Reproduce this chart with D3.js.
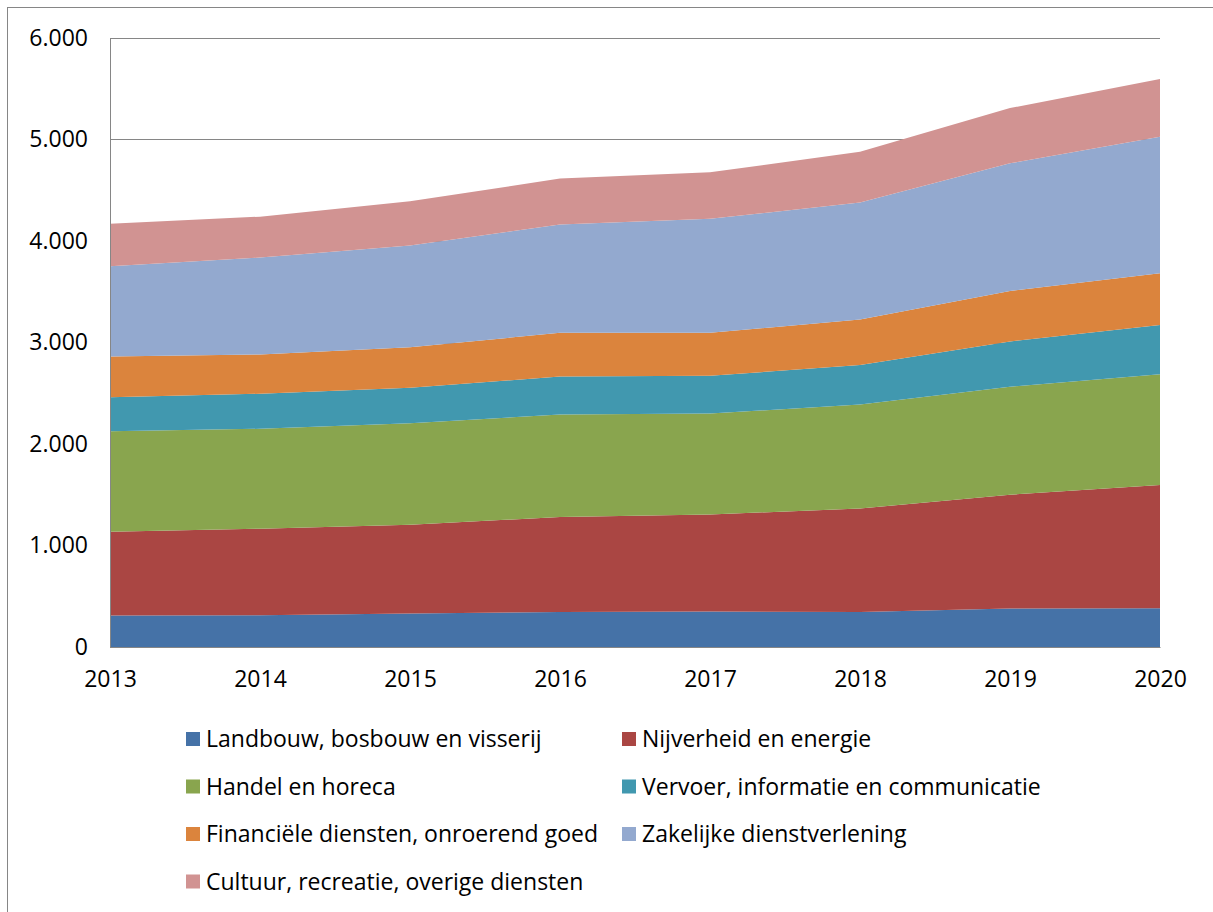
<!DOCTYPE html>
<html>
<head>
<meta charset="utf-8">
<script src="https://cdn.jsdelivr.net/npm/d3@7"></script>
<style>
  body { margin: 0; background: #fff; }
  text { font-family: "Open Sans", "Noto Sans", sans-serif; fill: #000; }
</style>
</head>
<body>
<div id="visualization"></div>
<script>
// Data (values per year)
var years = [2013, 2014, 2015, 2016, 2017, 2018, 2019, 2020];
var yTicks = [0, 1000, 2000, 3000, 4000, 5000, 6000];

var seriesNames = [
  "Landbouw, bosbouw en visserij",
  "Nijverheid en energie",
  "Handel en horeca",
  "Vervoer, informatie en communicatie",
  "Financiële diensten, onroerend goed",
  "Zakelijke dienstverlening",
  "Cultuur, recreatie, overige diensten"
];
var landbouw = [310, 312, 330, 345, 350, 345, 380, 382];
var nijverheid = [825, 853, 875, 935, 955, 1020, 1120, 1213];
var handel = [990, 985, 1000, 1010, 995, 1023, 1065, 1093];
var vervoer = [335, 345, 348, 375, 372, 390, 445, 484];
var financieel = [402, 387, 400, 430, 423, 448, 497, 510];
var zakelijk = [890, 955, 1002, 1067, 1123, 1154, 1258, 1346];
var cultuur = [418, 403, 436, 453, 459, 499, 545, 567];

var colors = ["#4572a7", "#aa4643", "#89a54e", "#4198af", "#db843d", "#93a9cf", "#d19392"];

// Build rows for d3.stack
var allSeries = [landbouw, nijverheid, handel, vervoer, financieel, zakelijk, cultuur];
var rows = years.map(function (y, i) {
  var r = { year: y };
  seriesNames.forEach(function (name, k) { r[name] = allSeries[k][i]; });
  return r;
});

var W = 1213, H = 912;
var margin = { top: 38, left: 110 };
var width = 1160 - 110;
var height = 647 - 38;

var svg = d3.select("#visualization")
  .append("svg")
  .attr("width", W)
  .attr("height", H);

// chart border
svg.append("rect")
  .attr("x", 7.5).attr("y", 7.5)
  .attr("width", W + 10).attr("height", H + 10)
  .attr("fill", "none")
  .attr("stroke", "#868686");

var g = svg.append("g")
  .attr("transform", "translate(" + margin.left + "," + margin.top + ")");

var xScale = d3.scaleLinear().domain([2013, 2020]).range([0, width]);
var yScale = d3.scaleLinear().domain([0, 6000]).range([height, 0]);

// gridlines (behind the areas)
g.selectAll(".grid")
  .data(yTicks)
  .enter().append("line")
  .attr("x1", 0).attr("x2", width)
  .attr("y1", function (d) { return Math.round(yScale(d)) + 0.5; })
  .attr("y2", function (d) { return Math.round(yScale(d)) + 0.5; })
  .attr("stroke", "#868686")
  .attr("stroke-width", 1);

var stack = d3.stack().keys(seriesNames);
var layers = stack(rows);

var area = d3.area()
  .x(function (d) { return xScale(d.data.year); })
  .y0(function (d) { return yScale(d[0]); })
  .y1(function (d) { return yScale(d[1]); });

g.selectAll(".layer")
  .data(layers)
  .enter().append("path")
  .attr("d", area)
  .attr("fill", function (d, i) { return colors[i]; });

// y axis
var yAxis = g.append("g")
  .call(d3.axisLeft(yScale).tickValues(yTicks).tickSize(0).tickPadding(22)
    .tickFormat(function (d) { return d3.format(",")(d).replace(/,/g, "."); }));
yAxis.select(".domain").attr("stroke", "#868686");
yAxis.selectAll("text").style("font-size", "23px").attr("font-family", null);

// x axis
var xAxis = g.append("g")
  .attr("transform", "translate(0," + height + ")")
  .call(d3.axisBottom(xScale).tickValues(years).tickSize(0).tickPadding(24)
    .tickFormat(d3.format("d")));
xAxis.select(".domain").attr("stroke", "#868686");
xAxis.selectAll("text").style("font-size", "23px").attr("font-family", null);

// legend
var legend = svg.append("g");
var legendItems = legend.selectAll(".item")
  .data(seriesNames)
  .enter().append("g")
  .attr("transform", function (d, i) {
    var col = i % 2, row = Math.floor(i / 2);
    return "translate(" + (col === 0 ? 186 : 622) + "," + (739 + row * 47.5) + ")";
  });
legendItems.append("rect")
  .attr("x", 0).attr("y", -7)
  .attr("width", 14).attr("height", 14)
  .attr("fill", function (d, i) { return colors[i]; });
legendItems.append("text")
  .attr("x", 20).attr("y", 0)
  .attr("dy", "0.35em")
  .style("font-size", "23px")
  .text(function (d) { return d; });
</script>
</body>
</html>
